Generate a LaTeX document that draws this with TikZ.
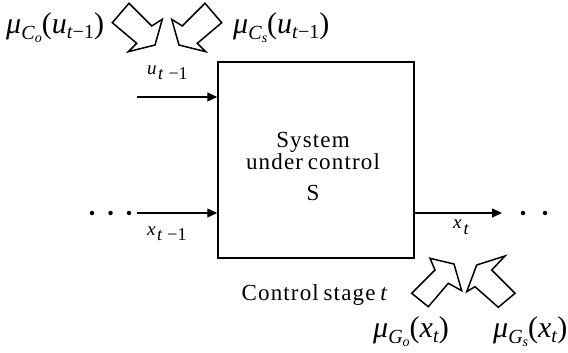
\documentclass[tikz,border=0pt]{standalone}
\usepackage{fontspec}
\setmainfont{Liberation Serif}
\newfontfamily\spaced[LetterSpace=5,WordSpace=0.7]{Liberation Serif}
\newcommand\lwr[3]{\raisebox{#1}{\fontsize{#2}{#2}\selectfont #3}}
\usetikzlibrary{arrows.meta}
\begin{document}
\begin{tikzpicture}[x=1pt,y=-1pt,
  sysbox/.style={draw, line width=1.5pt, minimum width=196pt, minimum height=196pt, inner sep=0pt},
  flow/.style={line width=1.3pt, -{Triangle[length=10pt,width=9pt]}},
  blockarrow/.style={draw, line width=1.5pt, line join=miter, fill=white},
  dot/.style={circle, fill, inner sep=0pt, minimum size=4.5pt},
  lbl/.style={inner sep=0pt, anchor=base west, font=\fontsize{19}{20}\selectfont},
  biglbl/.style={inner sep=0pt, anchor=base west, font=\fontsize{30}{34}\selectfont},
  txt/.style={inner sep=0pt, anchor=base, font=\spaced\fontsize{23}{26}\selectfont}]
\useasboundingbox (0,0) rectangle (568,353);

% system box
\node[sysbox] (S) at (316,160) {};
\node[txt] (T1) at (313,147) {System};
\node[txt] (T2) at (313,169) {under control};
\node[txt] (T3) at (313,200) {S};
\node[txt] (stage) at (315,300) {Control stage \textit{t}};

% input u
\coordinate (u0) at (137,97);
\draw[flow] (u0) -- (S.west |- u0);
\node[lbl] (ul) at (147,75) {\textit{u}\kern1.5pt\lwr{-5pt}{18}{\textit{t}\kern5pt−1}};

% input x
\coordinate (x0) at (137,213);
\draw[flow] (x0) -- (S.west |- x0);
\node[dot] (d1) at (92,213) {};
\node[dot] (d2) at (110.5,213) {};
\node[dot] (d3) at (129,213) {};
\node[lbl] (xl) at (147,235) {\textit{x}\kern1.5pt\lwr{-5pt}{18}{\textit{t}\kern5pt−1}};

% output x
\coordinate (xo) at (502,213);
\draw[flow] (S.east |- xo) -- (xo);
\node[dot] (d4) at (523,213) {};
\node[dot] (d5) at (545,213) {};
\node[lbl] (xtl) at (453,228) {\textit{x}\kern2pt\lwr{-6pt}{18}{\textit{t}}};

% top block arrows
\draw[blockarrow] (112.3,22.7) -- (129,3.3) -- (151.7,26) -- (162.3,19.3) -- (155,45) -- (128.3,51.7) -- (136.7,43.3) -- cycle;
\draw[blockarrow] (221.7,22.7) -- (205,3.3) -- (182.3,26) -- (171.7,19.3) -- (179,45) -- (205.7,51.7) -- (197.3,43.3) -- cycle;

% bottom block arrows
\draw[blockarrow] (411.7,293.3) -- (428.3,306.7) -- (448.3,283.3) -- (461.7,290.7) -- (454,264) -- (430,258.3) -- (435,270) -- cycle;
\draw[blockarrow] (515,293.3) -- (498.3,307.3) -- (475,286.7) -- (466.7,291.7) -- (476.7,265) -- (505,256) -- (491.7,270) -- cycle;

% membership labels
\node[biglbl] (mco) at (6,34) {\textit{μ}\lwr{-6pt}{20}{\textit{C}\lwr{-3pt}{14}{\textit{o}}}(\textit{u}\lwr{-5pt}{20}{\textit{t}−1})};
\node[biglbl] (mcs) at (233,34) {\textit{μ}\lwr{-6pt}{20}{\textit{C}\lwr{-3pt}{14}{\textit{s}}}(\textit{u}\lwr{-5pt}{20}{\textit{t}−1})};
\node[biglbl] (mgo) at (373,337) {\textit{μ}\lwr{-6pt}{20}{\textit{G}\lwr{-3pt}{14}{\textit{o}}}(\textit{x}\lwr{-5pt}{20}{\textit{t}})};
\node[biglbl] (mgs) at (493,337) {\textit{μ}\lwr{-6pt}{20}{\textit{G}\lwr{-3pt}{14}{\textit{s}}}(\textit{x}\lwr{-5pt}{20}{\textit{t}})};
\end{tikzpicture}
\end{document}
